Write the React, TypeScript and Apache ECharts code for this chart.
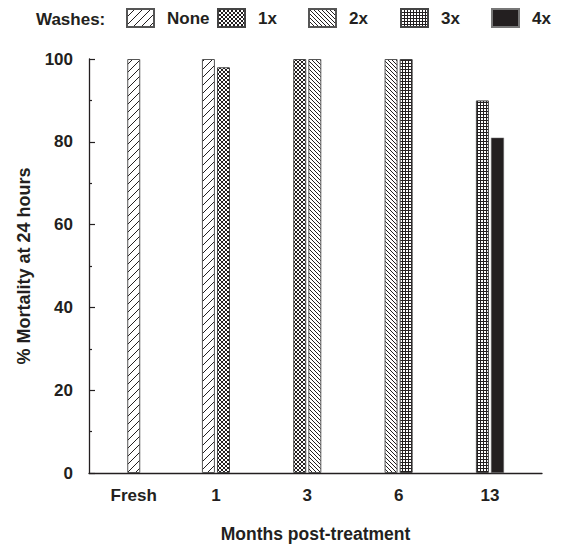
import React, { useEffect, useRef } from "react";
import * as echarts from "echarts";

// ---- data ----
const categories = ["Fresh", "1", "3", "6", "13"];
const washes = ["None", "1x", "2x", "3x", "4x"];
const noneValues = [100, 100, null, null, null];
const x1Values = [null, 98, 100, null, null];
const x2Values = [null, null, 100, 100, null];
const x3Values = [null, null, null, 100, 90];
const x4Values = [null, null, null, null, 81];
const yTicks = [0, 20, 40, 60, 80, 100];

const washData: (number | null)[][] = [noneValues, x1Values, x2Values, x3Values, x4Values];

// ---- layout (axis positions of the category labels) ----
const categoryAxisPos = [0.1, 1, 2, 3, 4];

const INK = "#231f20";
const FONT = "'Liberation Sans', Arial, Helvetica, sans-serif";

function makeTile(size: number, draw: (ctx: CanvasRenderingContext2D, s: number) => void) {
  const c = document.createElement("canvas");
  c.width = size;
  c.height = size;
  const ctx = c.getContext("2d")!;
  ctx.fillStyle = "#ffffff";
  ctx.fillRect(0, 0, size, size);
  ctx.strokeStyle = INK;
  ctx.fillStyle = INK;
  ctx.lineWidth = 1;
  draw(ctx, size);
  return { image: c, repeat: "repeat" };
}

function forwardHatch(ctx: CanvasRenderingContext2D, s: number) {
  ctx.beginPath();
  for (const k of [-s, 0, s]) {
    ctx.moveTo(k, s);
    ctx.lineTo(k + s, 0);
  }
  ctx.stroke();
}
function backHatch(ctx: CanvasRenderingContext2D, s: number) {
  ctx.beginPath();
  for (const k of [-s, 0, s]) {
    ctx.moveTo(k, 0);
    ctx.lineTo(k + s, s);
  }
  ctx.stroke();
}

function makeStyles() {
  return [
    { color: makeTile(8, forwardHatch), borderColor: "#555", borderWidth: 1 },
    {
      color: makeTile(4, (ctx, s) => {
        forwardHatch(ctx, s);
        backHatch(ctx, s);
      }),
      borderColor: "#444",
      borderWidth: 1,
    },
    { color: makeTile(4, backHatch), borderColor: "#555", borderWidth: 1 },
    {
      color: makeTile(3, (ctx, s) => {
        ctx.fillRect(0, 0, s, 1);
        ctx.fillRect(0, 0, 1, s);
      }),
      borderColor: "#444",
      borderWidth: 1,
    },
    { color: INK, borderColor: "#777", borderWidth: 0.5 },
  ];
}

function slotOf(catIdx: number, washIdx: number): string {
  const present = washData.map((v, w) => (v[catIdx] != null ? w : -1)).filter((w) => w >= 0);
  if (present.length === 1) return "C";
  return present.indexOf(washIdx) === 0 ? "L" : "R";
}

function buildSeries(styles: any[]) {
  const out: any[] = [];
  ["L", "C", "R"].forEach((slot) => {
    washes.forEach((name, w) => {
      let any = false;
      const data = categories.map((_, i) => {
        const v = washData[w][i];
        if (v != null && slotOf(i, w) === slot) {
          any = true;
          return [categoryAxisPos[i], v];
        }
        return [categoryAxisPos[i], "-"];
      });
      if (any) {
        out.push({
          type: "bar",
          name,
          stack: slot,
          barWidth: 13,
          barGap: "-42%",
          data,
          itemStyle: styles[w],
          emphasis: { disabled: true },
        });
      }
    });
  });
  return out;
}

const legendLefts = [126, 217, 308, 400, 491];

export default function App() {
  const ref = useRef<HTMLDivElement>(null);
  useEffect(() => {
    if (!ref.current) return;
    const chart = echarts.init(ref.current, undefined, { renderer: "svg" });
    const styles = makeStyles();
    const textBase = { fontFamily: FONT, fontWeight: "bold" as const, color: INK, fontSize: 17 };
    chart.setOption({
      animation: false,
      backgroundColor: "#ffffff",
      title: {
        text: "Washes:",
        left: 36,
        top: 11,
        padding: 0,
        textStyle: { ...textBase },
      },
      legend: washes.map((name, i) => ({
        data: [name],
        left: legendLefts[i],
        top: 8,
        padding: 0,
        icon: "rect",
        itemWidth: 27,
        itemHeight: 18,
        selectedMode: false,
        textStyle: { ...textBase, padding: [9, 0, 0, 8] },
      })),
      grid: { left: 89, right: 22, top: 59, bottom: 74, containLabel: false },
      xAxis: {
        type: "value",
        min: -0.39,
        max: 4.57,
        name: "Months post-treatment",
        nameLocation: "middle",
        nameGap: 52,
        nameTextStyle: { ...textBase, fontSize: 17.5 },
        axisLine: { show: true, onZero: false, lineStyle: { color: INK, width: 1.3 } },
        axisTick: { show: false },
        splitLine: { show: false },
        axisLabel: {
          customValues: categoryAxisPos,
          formatter: (v: number) => {
            const idx = categoryAxisPos.findIndex((p) => Math.abs(p - v) < 1e-6);
            return idx >= 0 ? categories[idx] : "";
          },
          margin: 14,
          ...textBase,
        },
      },
      yAxis: {
        type: "value",
        min: yTicks[0],
        max: yTicks[yTicks.length - 1],
        interval: 20,
        name: "% Mortality at 24 hours",
        nameLocation: "middle",
        nameGap: 56,
        nameTextStyle: { ...textBase, fontSize: 18 },
        axisLine: { show: true, onZero: false, lineStyle: { color: INK, width: 1.3 } },
        axisTick: { show: true, inside: true, length: 6, lineStyle: { color: INK, width: 1.2 } },
        minorTick: { show: true, splitNumber: 2, length: 3, lineStyle: { color: INK, width: 1.2 } },
        splitLine: { show: false },
        minorSplitLine: { show: false },
        axisLabel: { margin: 16, ...textBase },
      },
      series: buildSeries(styles),
    });
    return () => chart.dispose();
  }, []);
  return (
    <div
      ref={ref}
      style={{ position: "fixed", left: 0, top: 0, width: 564, height: 548, background: "#fff" }}
    />
  );
}
